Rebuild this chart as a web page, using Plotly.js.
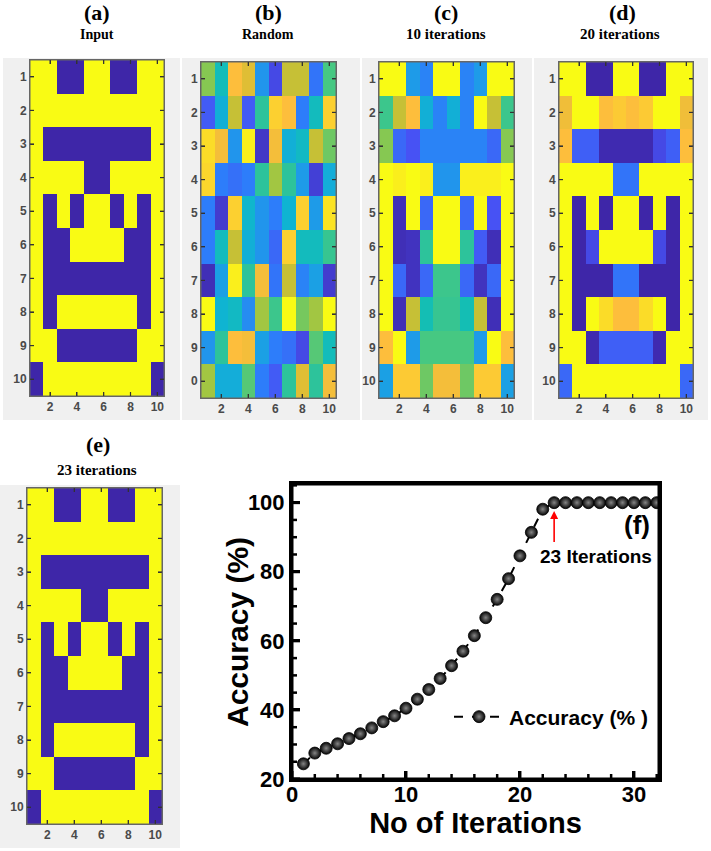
<!DOCTYPE html>
<html>
<head>
<meta charset="utf-8">
<script src="https://cdn.plot.ly/plotly-3.0.1.min.js"></script>
<style>html,body{margin:0;padding:0;background:#fff;}#chart{width:711px;height:851px;}</style>
</head>
<body>
<div id="chart"></div>
<script>
// ---------- data ----------
const gridCols = [1,2,3,4,5,6,7,8,9,10];
const gridRows = [1,2,3,4,5,6,7,8,9,10];
const gridTicks = [2,4,6,8,10];
const rowTickText = ['1','2','3','4','5','6','7','8','9','10'];
const rowTickTextRandom = ['1','2','3','4','5','6','7','8','9','0'];

// (a) input pattern (1 = yellow, 0 = blue)
const inputPattern = [
  [1,1,0,0,1,1,0,0,1,1],
  [1,1,1,1,1,1,1,1,1,1],
  [1,0,0,0,0,0,0,0,0,1],
  [1,1,1,1,0,0,1,1,1,1],
  [1,0,1,0,1,1,0,1,0,1],
  [1,0,0,1,1,1,1,0,0,1],
  [1,0,0,0,0,0,0,0,0,1],
  [1,0,1,1,1,1,1,1,0,1],
  [1,1,0,0,0,0,0,0,1,1],
  [0,1,1,1,1,1,1,1,1,0]
];
// (b) random initial weights
const randomPattern = [
  [0.68,0.48,0.90,0.83,0.28,0.08,0.78,0.78,0.18,0.60],
  [0.12,0.38,0.78,0.12,0.55,0.93,0.90,0.20,0.47,0.93],
  [0.95,0.88,0.28,0.98,0.04,0.88,0.38,0.45,0.78,0.65],
  [0.94,0.20,0.17,0.20,0.55,0.72,0.55,0.30,0.06,0.37],
  [0.20,0.05,0.93,0.42,0.28,0.20,0.40,0.93,0.30,0.96],
  [0.20,0.47,0.78,0.38,0.28,0.15,0.93,0.47,0.47,0.57],
  [0.02,0.32,0.98,0.55,0.88,0.18,0.78,0.22,0.32,0.05],
  [1.00,0.40,0.45,0.25,0.72,0.58,1.00,0.66,0.72,1.00],
  [0.28,0.55,0.90,0.88,0.32,0.20,0.17,0.08,0.62,0.48],
  [0.72,0.37,0.37,0.62,0.20,0.12,0.55,0.83,0.55,0.88]
];
// (c) after 10 iterations
const iter10Pattern = [
  [1.00,1.00,0.30,0.22,1.00,1.00,0.22,0.30,1.00,1.00],
  [0.58,0.78,0.90,0.38,0.22,0.38,0.22,1.00,0.78,0.58],
  [0.68,0.15,0.10,0.22,0.22,0.22,0.22,0.22,0.15,0.68],
  [1.00,0.98,1.00,0.98,0.28,0.28,0.98,0.98,0.98,1.00],
  [1.00,0.02,1.00,0.15,1.00,1.00,0.15,1.00,0.10,1.00],
  [1.00,0.02,0.03,0.55,1.00,1.00,0.55,0.12,0.02,1.00],
  [1.00,0.15,0.03,0.15,0.58,0.58,0.15,0.03,0.15,1.00],
  [1.00,0.02,0.78,0.50,0.57,0.57,0.50,0.78,0.02,1.00],
  [0.90,1.00,0.30,0.60,0.60,0.60,0.60,0.30,1.00,0.90],
  [0.32,0.92,0.92,0.65,0.88,0.88,0.65,0.92,0.92,0.32]
];
// (d) after 20 iterations
const iter20Pattern = [
  [1.00,1.00,0.00,0.00,1.00,1.00,0.00,0.00,1.00,1.00],
  [0.87,1.00,1.00,0.90,0.92,0.90,0.92,1.00,1.00,0.87],
  [0.90,0.13,0.13,0.01,0.01,0.01,0.01,0.08,0.13,0.90],
  [1.00,1.00,1.00,1.00,0.18,0.18,1.00,1.00,1.00,1.00],
  [1.00,0.00,1.00,0.00,1.00,1.00,0.00,1.00,0.00,1.00],
  [1.00,0.00,0.08,1.00,1.00,1.00,1.00,0.08,0.00,1.00],
  [1.00,0.00,0.00,0.00,0.18,0.18,0.00,0.00,0.00,1.00],
  [1.00,0.00,1.00,0.95,0.90,0.90,0.95,1.00,0.00,1.00],
  [1.00,1.00,0.01,0.13,0.13,0.13,0.13,0.01,1.00,1.00],
  [0.15,1.00,1.00,1.00,1.00,1.00,1.00,1.00,1.00,0.15]
];
// (e) after 23 iterations
const iter23Pattern = [
  [1,1,0,0,1,1,0,0,1,1],
  [1,1,1,1,1,1,1,1,1,1],
  [1,0,0,0,0,0,0,0,0,1],
  [1,1,1,1,0,0,1,1,1,1],
  [1,0,1,0,1,1,0,1,0,1],
  [1,0,0,1,1,1,1,0,0,1],
  [1,0,0,0,0,0,0,0,0,1],
  [1,0,1,1,1,1,1,1,0,1],
  [1,1,0,0,0,0,0,0,1,1],
  [0,1,1,1,1,1,1,1,1,0]
];

// (f) accuracy vs iterations
const iterations = [1,2,3,4,5,6,7,8,9,10,11,12,13,14,15,16,17,18,19,20,21,22,23,24,25,26,27,28,29,30,31,32];
const accuracy = [24.4,27.5,28.9,30.2,31.7,33.1,34.8,36.6,38.3,40.5,43.1,45.9,49.1,52.8,57.0,61.5,66.7,72.0,78.0,84.6,91.4,98.1,100,100,100,100,100,100,100,100,100,100];
const accTicks = [20,40,60,80,100];
const accMinorTicks = [25,30,35,45,50,55,65,70,75,85,90,95,105];
const iterTicks = [0,10,20,30];
const iterMinorTicks = [2,4,6,8,12,14,16,18,22,24,26,28,32];

// ---------- styles ----------
const parula = [
  [0.0,'rgb(62,38,168)'],[0.1,'rgb(71,82,244)'],[0.2,'rgb(45,125,250)'],
  [0.3,'rgb(30,155,232)'],[0.4,'rgb(15,180,210)'],[0.5,'rgb(20,190,180)'],
  [0.6,'rgb(70,200,130)'],[0.7,'rgb(150,200,70)'],[0.8,'rgb(210,190,50)'],
  [0.9,'rgb(253,190,60)'],[1.0,'rgb(249,251,20)']
];
const W = 711, H = 851;
const px = v => v / W;
const py = v => 1 - v / H;

function hm(z, xa, ya) {
  return {type:'heatmap', z:z, x:gridCols, y:gridRows, xaxis:xa, yaxis:ya,
    colorscale:parula, zmin:0, zmax:1, showscale:false};
}
const traces = [
  hm(inputPattern,'x','y'),
  hm(randomPattern,'x2','y2'),
  hm(iter10Pattern,'x3','y3'),
  hm(iter20Pattern,'x4','y4'),
  hm(iter23Pattern,'x5','y5'),
  {type:'scatter', mode:'lines+markers', x:iterations, y:accuracy, xaxis:'x6', yaxis:'y6',
   name:'Accuracy (% )',
   line:{color:'#000', width:2, dash:'dash'},
   marker:{size:12, color:'#050505', line:{color:'#000', width:0.8},
           gradient:{type:'radial', color:'#858585'}}}
];

const tickFont = {family:'Liberation Sans, Arial, sans-serif', size:12, color:'#4a4a4a', weight:'bold'};
function hx(x0, x1, anchor) {
  return {domain:[px(x0), px(x1)], anchor:anchor, range:[0.5,10.5], tickmode:'array', tickvals:gridTicks,
    ticks:'inside', ticklen:4, tickcolor:'#333', tickwidth:1, showline:true, mirror:'ticks',
    linecolor:'#666', linewidth:1, showgrid:false, zeroline:false, tickfont:tickFont};
}
function hy(y0, y1, txt, anchor) {
  return {domain:[py(y1), py(y0)], anchor:anchor, range:[10.5,0.5], tickmode:'array', tickvals:gridRows, ticktext:txt,
    ticks:'inside', ticklen:4, tickcolor:'#333', tickwidth:1, showline:true, mirror:'ticks',
    linecolor:'#666', linewidth:1, showgrid:false, zeroline:false, tickfont:tickFont};
}

const serifBold = s => ({family:'Liberation Serif, Times New Roman, serif', size:s, color:'#000', weight:'bold'});
function ttl(text, x, y, size) {
  return {text:text, x:px(x), y:py(y), xref:'paper', yref:'paper', showarrow:false,
    xanchor:'center', yanchor:'middle', font:serifBold(size)};
}
const sansBold = s => ({family:'Liberation Sans, Arial, sans-serif', size:s, color:'#000', weight:'bold'});

// frames (drawn on each subplot's own domain)
function frame(xa, ya, color, width) {
  return {type:'rect', xref:xa+' domain', yref:ya+' domain', x0:0, x1:1, y0:0, y1:1,
    line:{color:color, width:width}, fillcolor:'rgba(0,0,0,0)', layer:'above'};
}
// tick marks as small filled rects anchored at axis values (pixel sized)
function xTick(xa, ya, t, atTop, len, wid, color) {
  return {type:'rect', layer:'above', fillcolor:color, line:{width:0},
    xref:xa, xsizemode:'pixel', xanchor:t, x0:-wid/2, x1:wid/2,
    yref:ya+' domain', ysizemode:'pixel', yanchor:atTop ? 1 : 0,
    y0:atTop ? -len : 0, y1:atTop ? 0 : len};
}
function yTick(xa, ya, t, atRight, len, wid, color) {
  return {type:'rect', layer:'above', fillcolor:color, line:{width:0},
    xref:xa+' domain', xsizemode:'pixel', xanchor:atRight ? 1 : 0,
    x0:atRight ? -len : 0, x1:atRight ? 0 : len,
    yref:ya, ysizemode:'pixel', yanchor:t, y0:-wid/2, y1:wid/2};
}
const heatAxes = [['x','y'],['x2','y2'],['x3','y3'],['x4','y4'],['x5','y5']];
let heatTickShapes = [];
heatAxes.forEach(([xa, ya]) => {
  gridTicks.forEach(t => { heatTickShapes.push(xTick(xa, ya, t, false, 4, 1.2, '#333')); heatTickShapes.push(xTick(xa, ya, t, true, 4, 1.2, '#333')); });
  gridRows.forEach(t => { heatTickShapes.push(yTick(xa, ya, t, false, 4, 1.2, '#333')); heatTickShapes.push(yTick(xa, ya, t, true, 4, 1.2, '#333')); });
});
const fTickShapes = []
  .concat(iterTicks.map(t => xTick('x6','y6',t,false,8,3,'#000')))
  .concat(iterMinorTicks.map(t => xTick('x6','y6',t,false,5,2.5,'#000')))
  .concat(accTicks.map(t => yTick('x6','y6',t,false,8,3,'#000')))
  .concat(accMinorTicks.map(t => yTick('x6','y6',t,false,5,2.5,'#000')));

const grayPanels = [
  {type:'rect', xref:'paper', yref:'paper', x0:px(3), x1:px(180), y0:py(420), y1:py(58), fillcolor:'#f0f0f0', line:{width:0}, layer:'below'},
  {type:'rect', xref:'paper', yref:'paper', x0:px(182), x1:px(360), y0:py(420), y1:py(58), fillcolor:'#f0f0f0', line:{width:0}, layer:'below'},
  {type:'rect', xref:'paper', yref:'paper', x0:px(362), x1:px(532), y0:py(420), y1:py(58), fillcolor:'#f0f0f0', line:{width:0}, layer:'below'},
  {type:'rect', xref:'paper', yref:'paper', x0:px(534), x1:px(708), y0:py(420), y1:py(58), fillcolor:'#f0f0f0', line:{width:0}, layer:'below'},
  {type:'rect', xref:'paper', yref:'paper', x0:px(0), x1:px(180), y0:py(848), y1:py(485), fillcolor:'#f0f0f0', line:{width:0}, layer:'below'}
];

const layout = {
  width:W, height:H, margin:{l:0,r:0,t:0,b:0},
  showlegend:true,
  legend:{x:px(449), y:py(717), xanchor:'left', yanchor:'middle', bgcolor:'rgba(0,0,0,0)',
          borderwidth:0, itemwidth:50, font:sansBold(21)},
  xaxis:hx(30,164,'y'), yaxis:hy(60,396,rowTickText,'x'),
  xaxis2:hx(201,336,'y2'), yaxis2:hy(62,398,rowTickTextRandom,'x2'),
  xaxis3:hx(379,514,'y3'), yaxis3:hy(62,398,rowTickText,'x3'),
  xaxis4:hx(559,693,'y4'), yaxis4:hy(62,398,rowTickText,'x4'),
  xaxis5:hx(27,162,'y5'), yaxis5:hy(488,824,rowTickText,'x5'),
  xaxis6:{domain:[px(292),px(659)], anchor:'y6', range:[0,32.2],
    tickmode:'array', tickvals:iterTicks,
    ticks:'inside', ticklen:8, tickwidth:3, tickcolor:'#000',
    showline:true, mirror:true, linecolor:'#000', linewidth:3, showgrid:false, zeroline:false,
    tickfont:sansBold(22), ticklabelstandoff:-6,
    title:{text:'No of Iterations', font:sansBold(29), standoff:0}},
  yaxis6:{domain:[py(779),py(484)], anchor:'x6', range:[20,105.4],
    tickmode:'array', tickvals:accTicks,
    ticks:'inside', ticklen:8, tickwidth:3, tickcolor:'#000',
    showline:true, mirror:true, linecolor:'#000', linewidth:3, showgrid:false, zeroline:false,
    tickfont:sansBold(22)},
  shapes: grayPanels.concat([
    frame('x','y','#666',1), frame('x2','y2','#666',1), frame('x3','y3','#666',1),
    frame('x4','y4','#666',1), frame('x5','y5','#666',1), frame('x6','y6','#000',3)
  ]).concat(heatTickShapes, fTickShapes),
  annotations:[
    ttl('(a)',97,13,22), ttl('Input',97,34,14),
    ttl('(b)',268,13,22), ttl('Random',268,34,14),
    ttl('(c)',446,13,22), ttl('10 iterations',446,34,15),
    ttl('(d)',622,13,22), ttl('20 iterations',620,34,15),
    ttl('(e)',98,444,22), ttl('23 iterations',97,470,15),
    {text:'Accuracy (%)', x:px(237), y:py(632), xref:'paper', yref:'paper', textangle:-90,
     showarrow:false, xanchor:'center', yanchor:'middle', font:sansBold(30)},
    {text:'', x:23, y:97.6, xref:'x6', yref:'y6', ax:23, ay:88.2, axref:'x6', ayref:'y6',
     showarrow:true, arrowhead:2, arrowsize:1, arrowwidth:1.6, arrowcolor:'#ff0000', standoff:0},
    {text:'23 Iterations', x:26.7, y:84.3, xref:'x6', yref:'y6', showarrow:false,
     xanchor:'center', yanchor:'middle', font:sansBold(19)},
    {text:'(f)', x:30.3, y:93.6, xref:'x6', yref:'y6', showarrow:false,
     xanchor:'center', yanchor:'middle', font:sansBold(26)}
  ]
};

Plotly.newPlot('chart', traces, layout, {displayModeBar:false, staticPlot:true});
</script>
</body>
</html>
